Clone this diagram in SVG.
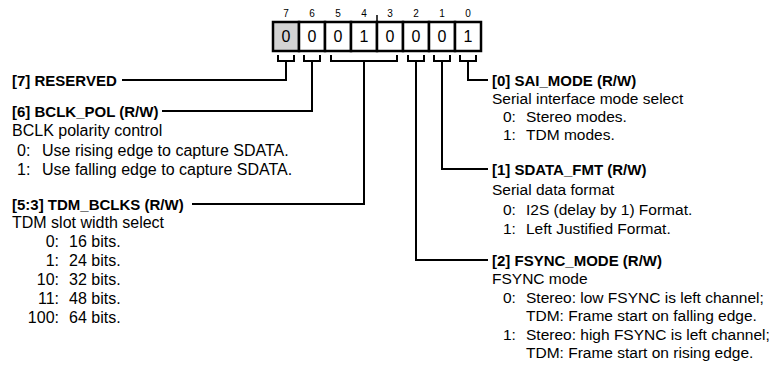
<svg xmlns="http://www.w3.org/2000/svg" width="783" height="371" viewBox="0 0 783 371">
<style>
text{font-family:"Liberation Sans",Arial,sans-serif;fill:#000}
.h{font-size:15px;font-weight:bold}
.t{font-size:15.5px}
.l{font-size:16px}
.n{font-size:10px;text-anchor:middle}
.v{font-size:16px;text-anchor:middle}
.e{text-anchor:end}
.w{fill:none;stroke:#000;stroke-width:2}
.cell{fill:#fff;stroke:#000;stroke-width:2.5}
</style>
<rect width="783" height="371" fill="#fff"/>
<g id="register">
<rect class="cell" x="273" y="22" width="26" height="29" style="fill:#d3d3d3"/>
<rect class="cell" x="299" y="22" width="26" height="29"/>
<rect class="cell" x="325" y="22" width="26" height="29"/>
<rect class="cell" x="351" y="22" width="26" height="29"/>
<rect class="cell" x="377" y="22" width="26" height="29"/>
<rect class="cell" x="403" y="22" width="26" height="29"/>
<rect class="cell" x="429" y="22" width="26" height="29"/>
<rect class="cell" x="455" y="22" width="26" height="29"/>
<line x1="377" y1="15" x2="377" y2="22" stroke="#000" stroke-width="1.5"/>
<text class="n" x="286" y="17">7</text>
<text class="n" x="312" y="17">6</text>
<text class="n" x="338" y="17">5</text>
<text class="n" x="364" y="17">4</text>
<text class="n" x="390" y="17">3</text>
<text class="n" x="416" y="17">2</text>
<text class="n" x="442" y="17">1</text>
<text class="n" x="468" y="17">0</text>
<text class="v" x="286" y="42">0</text>
<text class="v" x="312" y="42">0</text>
<text class="v" x="338" y="42">0</text>
<text class="v" x="364" y="42">1</text>
<text class="v" x="390" y="42">0</text>
<text class="v" x="416" y="42">0</text>
<text class="v" x="442" y="42">0</text>
<text class="v" x="468" y="42">1</text>
</g>
<g id="connectors">
<path class="w" d="M278 55V61H294V55M286 61V80H122"/>
<path class="w" d="M304 55V61H320V55M312 61V111H162"/>
<path class="w" d="M331 55V61H397V55M364 61V204H192"/>
<path class="w" d="M408 55V61H424V55M416 61V260H488"/>
<path class="w" d="M434 55V61H450V55M442 61V169H488"/>
<path class="w" d="M460 55V61H476V55M468 61V80H488"/>
</g>
<g id="bit7">
<text class="h" x="12" y="85.5">[7] RESERVED</text>
</g>
<g id="bit6">
<text class="h" x="12" y="116.5">[6] BCLK_POL (R/W)</text>
<text class="l" x="12" y="136">BCLK polarity control</text>
<text class="l" x="17" y="156">0:</text><text class="l" x="42" y="156">Use rising edge to capture SDATA.</text>
<text class="l" x="17" y="175">1:</text><text class="l" x="42" y="175">Use falling edge to capture SDATA.</text>
</g>
<g id="bits5to3">
<text class="h" x="12" y="209.5">[5:3] TDM_BCLKS (R/W)</text>
<text class="l" x="12" y="227.5">TDM slot width select</text>
<text class="l e" x="59" y="246.5">0:</text><text class="l" x="69" y="246.5">16 bits.</text>
<text class="l e" x="59" y="265.5">1:</text><text class="l" x="69" y="265.5">24 bits.</text>
<text class="l e" x="59" y="284.5">10:</text><text class="l" x="69" y="284.5">32 bits.</text>
<text class="l e" x="59" y="303.5">11:</text><text class="l" x="69" y="303.5">48 bits.</text>
<text class="l e" x="59" y="322.5">100:</text><text class="l" x="69" y="322.5">64 bits.</text>
</g>
<g id="bit0">
<text class="h" x="492" y="85.5">[0] SAI_MODE (R/W)</text>
<text class="t" x="492" y="104">Serial interface mode select</text>
<text class="t" x="503" y="122">0:</text><text class="t" x="526" y="122">Stereo modes.</text>
<text class="t" x="503" y="140">1:</text><text class="t" x="526" y="140">TDM modes.</text>
</g>
<g id="bit1">
<text class="h" x="492" y="174.5">[1] SDATA_FMT (R/W)</text>
<text class="t" x="492" y="195">Serial data format</text>
<text class="t" x="503" y="214.5">0:</text><text class="t" x="526" y="214.5">I2S (delay by 1) Format.</text>
<text class="t" x="503" y="233.5">1:</text><text class="t" x="526" y="233.5">Left Justified Format.</text>
</g>
<g id="bit2">
<text class="h" x="492" y="265.5">[2] FSYNC_MODE (R/W)</text>
<text class="t" x="492" y="284">FSYNC mode</text>
<text class="t" x="503" y="302.5">0:</text><text class="t" x="526" y="302.5">Stereo: low FSYNC is left channel;</text>
<text class="t" x="526" y="321">TDM: Frame start on falling edge.</text>
<text class="t" x="503" y="339.5">1:</text><text class="t" x="526" y="339.5">Stereo: high FSYNC is left channel;</text>
<text class="t" x="526" y="358">TDM: Frame start on rising edge.</text>
</g>
</svg>
